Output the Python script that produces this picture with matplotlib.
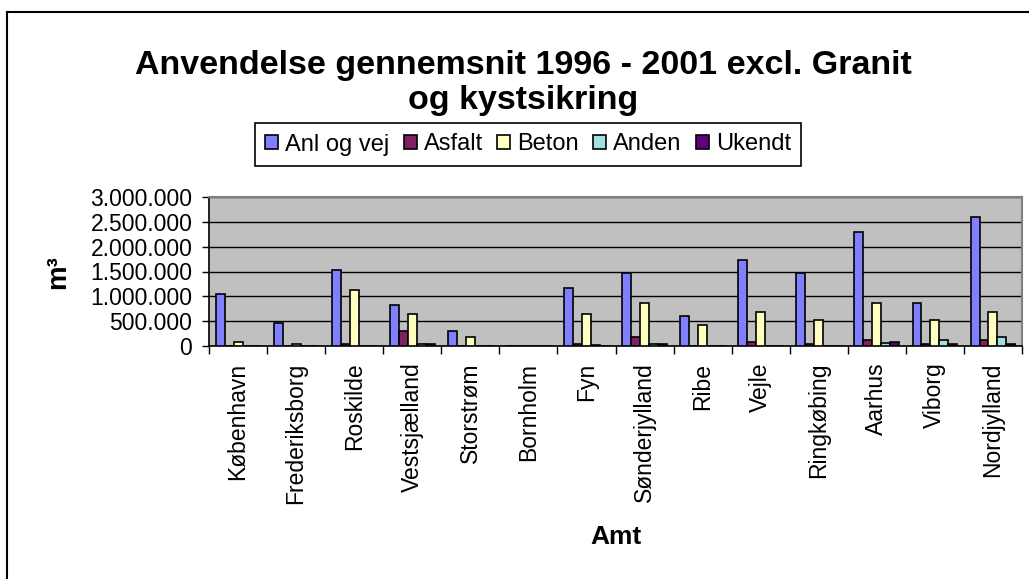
import numpy as np
import matplotlib
matplotlib.use("Agg")
import matplotlib.pyplot as plt
from matplotlib.lines import Line2D
from matplotlib.ticker import FuncFormatter

plt.rcParams['font.family'] = ['Liberation Sans', 'DejaVu Sans']

# Anvendelse gennemsnit 1996-2001 pr. amt [m3]
AMTER = ["København", "Frederiksborg", "Roskilde", "Vestsjælland", "Storstrøm",
         "Bornholm", "Fyn", "Sønderjylland", "Ribe", "Vejle", "Ringkøbing",
         "Aarhus", "Viborg", "Nordjylland"]
SERIES = ["Anl og vej", "Asfalt", "Beton", "Anden", "Ukendt"]

anl_og_vej = [1040000, 470000, 1530000, 830000, 300000, 0, 1170000,
              1470000, 605000, 1730000, 1470000, 2295000, 866000, 2600000]
asfalt = [0, 0, 35000, 295000, 0, 0, 35000,
          180000, 0, 80000, 35000, 115000, 35000, 115000]
beton = [80000, 35000, 1135000, 650000, 180000, 0, 650000,
         866000, 430000, 690000, 515000, 866000, 515000, 690000]
anden = [0, 0, 0, 35000, 0, 0, 30000,
         35000, 0, 0, 0, 65000, 125000, 175000]
ukendt = [0, 0, 0, 35000, 0, 0, 0,
          35000, 0, 0, 0, 80000, 35000, 35000]

COLORS = ["#8080FF", "#802060", "#FFFFC0", "#A0E0E0", "#600080"]

W, H = 1029, 579
fig = plt.figure(figsize=(W / 100, H / 100), dpi=100)
ax = fig.add_axes([209 / W, 1 - 346 / H, (1022 - 209) / W, (346 - 197) / H])
ax.set_facecolor("#C0C0C0")

x = np.arange(len(AMTER))
bw = 1 / 6.5
handles = []
for k, (vals, col) in enumerate(zip([anl_og_vej, asfalt, beton, anden, ukendt], COLORS)):
    b = ax.bar(x + (k - 2) * bw, vals, width=bw, color=col, edgecolor="black",
               linewidth=1.2, zorder=3)
    handles.append(b)

ax.set_xlim(-0.5, len(AMTER) - 0.5)
ax.set_ylim(0, 3000000)
ax.set_yticks(np.arange(0, 3000001, 500000))
ax.yaxis.set_major_formatter(FuncFormatter(lambda v, p: f"{int(v):,}".replace(",", ".")))
ax.yaxis.grid(True, color="black", linewidth=1, zorder=1)

ax.set_xticks(np.arange(-0.5, len(AMTER)), labels=[""] * (len(AMTER) + 1))
ax.set_xticks(x, labels=AMTER, minor=True, rotation=90, va="top")
ax.tick_params(axis="x", which="minor", length=0, pad=12, labelsize=16.5)
ax.tick_params(axis="x", which="major", length=6, width=1, direction="out")
ax.tick_params(axis="y", length=5, width=1, direction="out", pad=7, labelsize=16.5)

for s in ["top", "right"]:
    ax.spines[s].set_color("#808080")
    ax.spines[s].set_linewidth(1.5)
for s in ["left", "bottom"]:
    ax.spines[s].set_color("black")
    ax.spines[s].set_linewidth(1.2)

fig.text(523 / W, 1 - 83 / H, "Anvendelse gennemsnit 1996 - 2001 excl. Granit\nog kystsikring",
         ha="center", va="center", fontsize=24.5, fontweight="bold", linespacing=1.2)

fig.text(58 / W, 1 - 272 / H, "m³", rotation=90, ha="center", va="center",
         fontsize=20, fontweight="bold")
fig.text(616 / W, 1 - 537 / H, "Amt", ha="center", va="center",
         fontsize=19, fontweight="bold")

leg = fig.legend(handles, SERIES, loc="center", bbox_to_anchor=(528 / W, 1 - 144.5 / H),
                 ncol=5, fontsize=17, frameon=True, fancybox=False, edgecolor="black",
                 framealpha=1, handlelength=0.55, handleheight=0.55, handletextpad=0.3,
                 columnspacing=0.6, borderpad=0.45)
leg.get_frame().set_linewidth(1.2)

# chart border (clipped at right and bottom in the original)
fig.add_artist(Line2D([6.5 / W, 6.5 / W], [0, 1 - 12 / H], color="black", lw=1.5,
                      transform=fig.transFigure))
fig.add_artist(Line2D([6.5 / W, 1], [1 - 12 / H, 1 - 12 / H], color="black", lw=1.5,
                      transform=fig.transFigure))

fig.savefig("out.png", dpi=100)
